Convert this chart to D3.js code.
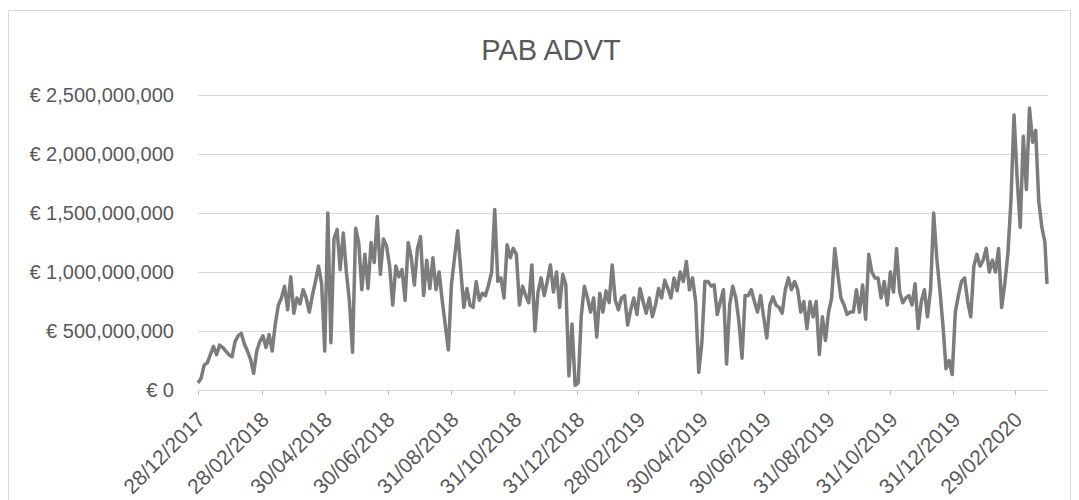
<!DOCTYPE html>
<html><head><meta charset="utf-8">
<script src="https://cdn.jsdelivr.net/npm/d3@7"></script>
<style>
body{margin:0;background:#fff;}
svg{display:block;font-family:"Liberation Sans",Arial,sans-serif;}
</style></head><body>
<svg id="chart" width="1079" height="500"></svg>
<script>
const title = "PAB ADVT";
const dates = [
"2017-12-28","2017-12-31",
"2018-01-03","2018-01-06","2018-01-09","2018-01-12","2018-01-15","2018-01-18","2018-01-21","2018-01-24","2018-01-27","2018-01-30",
"2018-02-02","2018-02-05","2018-02-08","2018-02-11","2018-02-14","2018-02-17","2018-02-20","2018-02-23","2018-02-26",
"2018-03-01","2018-03-04","2018-03-07","2018-03-10","2018-03-13","2018-03-16","2018-03-19","2018-03-22","2018-03-25","2018-03-28","2018-03-31",
"2018-04-03","2018-04-06","2018-04-09","2018-04-12","2018-04-15","2018-04-18","2018-04-21","2018-04-24","2018-04-27","2018-04-30",
"2018-05-03","2018-05-06","2018-05-09","2018-05-12","2018-05-15","2018-05-18","2018-05-21","2018-05-24","2018-05-27","2018-05-30",
"2018-06-02","2018-06-05","2018-06-08","2018-06-11","2018-06-14","2018-06-17","2018-06-20","2018-06-23","2018-06-26","2018-06-29",
"2018-07-02","2018-07-05","2018-07-08","2018-07-11","2018-07-14","2018-07-17","2018-07-20","2018-07-23","2018-07-26","2018-07-29",
"2018-08-01","2018-08-04","2018-08-07","2018-08-10","2018-08-13","2018-08-16","2018-08-19","2018-08-22","2018-08-25","2018-08-28","2018-08-31",
"2018-09-03","2018-09-06","2018-09-09","2018-09-12","2018-09-15","2018-09-18","2018-09-21","2018-09-24","2018-09-27","2018-09-30",
"2018-10-03","2018-10-06","2018-10-09","2018-10-12","2018-10-15","2018-10-18","2018-10-21","2018-10-24","2018-10-27","2018-10-30",
"2018-11-02","2018-11-05","2018-11-08","2018-11-11","2018-11-14","2018-11-17","2018-11-20","2018-11-23","2018-11-26","2018-11-29",
"2018-12-02","2018-12-05","2018-12-08","2018-12-11","2018-12-14","2018-12-17","2018-12-20","2018-12-23","2018-12-26","2018-12-29",
"2019-01-01","2019-01-04","2019-01-07","2019-01-10","2019-01-13","2019-01-16","2019-01-19","2019-01-22","2019-01-25","2019-01-28","2019-01-31",
"2019-02-03","2019-02-06","2019-02-09","2019-02-12","2019-02-15","2019-02-18","2019-02-21","2019-02-24","2019-02-27",
"2019-03-02","2019-03-05","2019-03-08","2019-03-11","2019-03-14","2019-03-17","2019-03-20","2019-03-23","2019-03-26","2019-03-29",
"2019-04-01","2019-04-04","2019-04-07","2019-04-10","2019-04-13","2019-04-16","2019-04-19","2019-04-22","2019-04-25","2019-04-28",
"2019-05-01","2019-05-04","2019-05-07","2019-05-10","2019-05-13","2019-05-16","2019-05-19","2019-05-22","2019-05-25","2019-05-28","2019-05-31",
"2019-06-03","2019-06-06","2019-06-09","2019-06-12","2019-06-15","2019-06-18","2019-06-21","2019-06-24","2019-06-27","2019-06-30",
"2019-07-03","2019-07-06","2019-07-09","2019-07-12","2019-07-15","2019-07-18","2019-07-21","2019-07-24","2019-07-27","2019-07-30",
"2019-08-02","2019-08-05","2019-08-08","2019-08-11","2019-08-14","2019-08-17","2019-08-20","2019-08-23","2019-08-26","2019-08-29",
"2019-09-01","2019-09-04","2019-09-07","2019-09-10","2019-09-13","2019-09-16","2019-09-19","2019-09-22","2019-09-25","2019-09-28",
"2019-10-01","2019-10-04","2019-10-07","2019-10-10","2019-10-13","2019-10-16","2019-10-19","2019-10-22","2019-10-25","2019-10-28","2019-10-31",
"2019-11-03","2019-11-06","2019-11-09","2019-11-12","2019-11-15","2019-11-18","2019-11-21","2019-11-24","2019-11-27","2019-11-30",
"2019-12-03","2019-12-06","2019-12-09","2019-12-12","2019-12-15","2019-12-18","2019-12-21","2019-12-24","2019-12-27","2019-12-30",
"2020-01-02","2020-01-05","2020-01-08","2020-01-11","2020-01-14","2020-01-17","2020-01-20","2020-01-23","2020-01-26","2020-01-29",
"2020-02-01","2020-02-04","2020-02-07","2020-02-10","2020-02-13","2020-02-16","2020-02-19","2020-02-22","2020-02-25","2020-02-28",
"2020-03-02","2020-03-05","2020-03-08","2020-03-11","2020-03-14","2020-03-17","2020-03-20","2020-03-23","2020-03-26","2020-03-29","2020-03-31"
];
// ADVT in millions of euro
const advtMillions = [
60,100,210,230,300,370,300,380,360,330,
300,280,410,460,480,390,330,260,140,330,
410,460,360,470,330,560,720,780,880,680,
960,650,780,730,850,780,660,800,920,1050,
900,330,1500,400,1280,1360,1020,1330,1000,750,
320,1370,1250,850,1150,860,1250,1080,1470,980,
1280,1220,1050,720,1050,960,1020,760,1250,1120,
890,1200,1300,800,1100,860,1120,850,1000,760,
550,340,900,1120,1350,1020,700,860,720,700,
920,760,820,800,890,1000,1530,920,950,780,
1230,1120,1200,1150,720,880,800,740,1060,500,
830,950,800,920,1060,830,1000,700,980,890,
120,560,40,60,630,880,780,660,780,450,
820,660,840,740,1060,760,680,780,800,550,
680,780,640,860,750,650,780,620,720,860,
780,930,860,780,950,840,1000,920,1090,850,
950,750,150,400,920,920,880,890,640,750,
850,220,720,880,780,580,270,800,800,850,
750,660,800,620,440,720,790,720,700,650,
850,950,850,920,850,660,750,520,750,620,
750,300,620,420,660,780,1200,980,780,720,
640,660,660,850,660,890,600,1150,1000,950,
950,780,920,720,1000,830,1200,830,740,780,
800,720,900,520,750,850,620,850,1500,1120,
850,550,180,250,130,660,800,920,950,750,
620,1050,1150,1050,1100,1200,1000,1100,1000,1200,
700,900,1150,1600,2330,1800,1380,2150,1700,2390,
2100,2200,1600,1380,1250,900
];
const tickLabels = ["28/12/2017","28/02/2018","30/04/2018","30/06/2018","31/08/2018","31/10/2018","31/12/2018","28/02/2019","30/04/2019","30/06/2019","31/08/2019","31/10/2019","31/12/2019","29/02/2020"];
const yTicks = [0, 500000000, 1000000000, 1500000000, 2000000000, 2500000000];

const svg = d3.select("#chart");
const parse = d3.timeParse("%Y-%m-%d");
const parseLabel = d3.timeParse("%d/%m/%Y");
const data = dates.map((d, i) => ({date: parse(d), value: advtMillions[i] * 1e6}));
const tickDates = tickLabels.map(parseLabel);

const plotLeft = 198, plotRight = 1048, plotTop = 95, plotBottom = 390;
const x = d3.scaleTime().domain(d3.extent(data, d => d.date)).range([plotLeft, plotRight - 1]);
const y = d3.scaleLinear().domain([0, 2500000000]).range([plotBottom, plotTop]);

// outer chart border
svg.append("rect").attr("x", 8.5).attr("y", 10.5).attr("width", 1062).attr("height", 500)
  .attr("fill", "none").attr("stroke", "#d9d9d9").attr("stroke-width", 1);

// title
svg.append("text").attr("x", 551).attr("y", 60).attr("text-anchor", "middle")
  .attr("font-size", 29).attr("fill", "#595959").text(title);

// y axis with gridlines
const euro = d3.format(",");
const yAxis = svg.append("g").attr("transform", `translate(${plotLeft},0)`)
  .call(d3.axisLeft(y).tickValues(yTicks).tickSize(-(plotRight - plotLeft)).tickPadding(24)
    .tickFormat(d => "€ " + euro(d)));
yAxis.select(".domain").remove();
yAxis.selectAll(".tick line").attr("stroke", "#d9d9d9").attr("shape-rendering", "crispEdges");
yAxis.selectAll(".tick text").attr("font-size", 20).attr("fill", "#595959")
  .attr("font-family", "'Liberation Sans', Arial, sans-serif");

// x axis
const xAxis = svg.append("g").attr("transform", `translate(0,${plotBottom})`)
  .call(d3.axisBottom(x).tickValues(tickDates).tickSize(5).tickSizeOuter(0)
    .tickFormat((d, i) => tickLabels[i]));
xAxis.select(".domain").attr("stroke", "#d9d9d9").attr("shape-rendering", "crispEdges");
xAxis.selectAll(".tick line").attr("stroke", "#bfbfbf").attr("shape-rendering", "crispEdges");
xAxis.selectAll(".tick text")
  .attr("font-size", 21).attr("fill", "#595959")
  .attr("font-family", "'Liberation Sans', Arial, sans-serif")
  .attr("text-anchor", "end")
  .attr("x", 0).attr("y", 0).attr("dy", 0)
  .attr("transform", "translate(8,31) rotate(-45)");

// line
const line = d3.line().x(d => x(d.date)).y(d => y(d.value));
svg.append("path").datum(data)
  .attr("fill", "none").attr("stroke", "#7c7c7c").attr("stroke-width", 3.5)
  .attr("stroke-linejoin", "round").attr("d", line);
</script>
</body></html>
